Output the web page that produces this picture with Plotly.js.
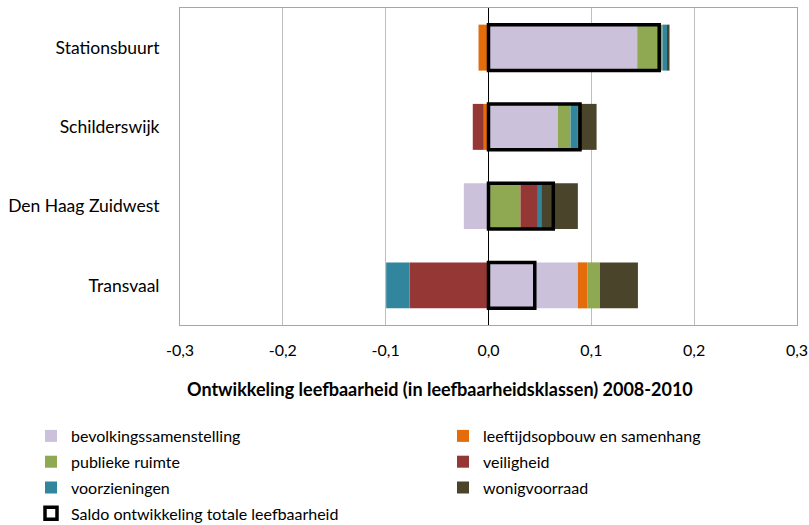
<!DOCTYPE html>
<html>
<head>
<meta charset="utf-8">
<script src="https://cdn.plot.ly/plotly-3.0.1.min.js"></script>
<style>html,body{margin:0;padding:0;background:#fff;}#chart{width:809px;height:525px;}</style>
</head>
<body>
<div id="chart"></div>
<script>
// Data
var wijken = ['Stationsbuurt', 'Schilderswijk', 'Den Haag Zuidwest', 'Transvaal'];
var bevolkingssamenstelling = [0.1446, 0.0674, -0.0240, 0.0869];
var leeftijdsopbouw = [-0.0097, -0.0046, 0.0, 0.0091];
var publiekeRuimte = [0.0246, 0.0124, 0.0311, 0.0123];
var veiligheid = [0.0, -0.0107, 0.0169, -0.0768];
var voorzieningen = [0.0044, 0.0071, 0.0033, -0.0227];
var wonigvoorraad = [0.0024, 0.0182, 0.0356, 0.0370];
var saldo = [0.166, 0.089, 0.063, 0.045];
var xTicks = [-0.3, -0.2, -0.1, 0.0, 0.1, 0.2, 0.3];
var xTickLabels = ['-0,3', '-0,2', '-0,1', '0,0', '0,1', '0,2', '0,3'];

var FONT = 'Lato, "Open Sans", sans-serif';
var BARW = 0.58;

function seg(name, vals, color, legend, group) {
  return {
    type: 'bar', orientation: 'h', name: name, y: wijken, x: vals,
    width: BARW, marker: {color: color, line: {width: 0}},
    legend: legend, legendgroup: group, hoverinfo: 'x+name'
  };
}

var traces = [
  seg('bevolkingssamenstelling', bevolkingssamenstelling, '#CCC1DA', 'legend', 'g1'),
  seg('leeftijdsopbouw en samenhang', leeftijdsopbouw, '#E46C0A', 'legend2', 'g2'),
  seg('publieke ruimte', publiekeRuimte, '#8FA952', 'legend', 'g3'),
  seg('veiligheid', veiligheid, '#953735', 'legend2', 'g4'),
  seg('voorzieningen', voorzieningen, '#31859C', 'legend', 'g5'),
  seg('wonigvoorraad', wonigvoorraad, '#4A452A', 'legend2', 'g6'),
  {
    type: 'bar', orientation: 'h', name: 'Saldo ontwikkeling totale leefbaarheid',
    y: wijken, x: saldo, yaxis: 'y2', width: BARW,
    marker: {color: 'rgba(0,0,0,0)', line: {color: '#000', width: 3.5}},
    legend: 'legend', legendgroup: 'g7'
  }
];

var legendCommon = {
  orientation: 'v', xref: 'container', yref: 'container',
  xanchor: 'left', yanchor: 'top', bgcolor: 'rgba(0,0,0,0)',
  font: {family: FONT, size: 16, color: '#000'},
  tracegroupgap: 2, itemwidth: 30, indentation: -12, traceorder: 'grouped'
};

var layout = {
  width: 809, height: 525,
  margin: {l: 180, r: 12, t: 8, b: 200, autoexpand: false},
  paper_bgcolor: '#fff', plot_bgcolor: '#fff',
  barmode: 'relative',
  font: {family: FONT, size: 16, color: '#000'},
  xaxis: {
    range: [-0.3, 0.3], tickvals: xTicks, ticktext: xTickLabels, tickangle: 0,
    showgrid: true, gridcolor: '#BEBEBE', gridwidth: 1,
    zeroline: true, zerolinecolor: '#000', zerolinewidth: 1.5,
    showline: true, linecolor: '#A6A6A6', linewidth: 1, mirror: true,
    ticks: '', ticklabelstandoff: 11,
    tickfont: {family: FONT, size: 16, color: '#000'}
  },
  yaxis: {
    type: 'category', categoryorder: 'array', categoryarray: wijken,
    range: [3.5, -0.5], showgrid: false, zeroline: false,
    showline: true, linecolor: '#A6A6A6', linewidth: 1, mirror: true,
    ticks: '', ticklabelstandoff: 16,
    tickfont: {family: FONT, size: 17.5, color: '#000'}
  },
  yaxis2: {
    type: 'category', categoryorder: 'array', categoryarray: wijken,
    range: [3.5, -0.5], overlaying: 'y', showticklabels: false,
    showgrid: false, zeroline: false, showline: false, ticks: ''
  },
  legend: Object.assign({}, legendCommon, {x: 43 / 809, y: 1 - 419 / 525}),
  legend2: Object.assign({}, legendCommon, {x: 455 / 809, y: 1 - 419 / 525}),
  annotations: [{
    text: '<b>Ontwikkeling leefbaarheid (in leefbaarheidsklassen) 2008-2010</b>',
    xref: 'paper', yref: 'paper', x: (440 - 180) / 617, y: (325 - 389) / 317,
    xanchor: 'center', yanchor: 'middle', showarrow: false,
    font: {family: FONT, size: 18, color: '#000'}
  }],
  showlegend: true
};

Plotly.newPlot('chart', traces, layout, {displayModeBar: false, staticPlot: true});
</script>
</body>
</html>
